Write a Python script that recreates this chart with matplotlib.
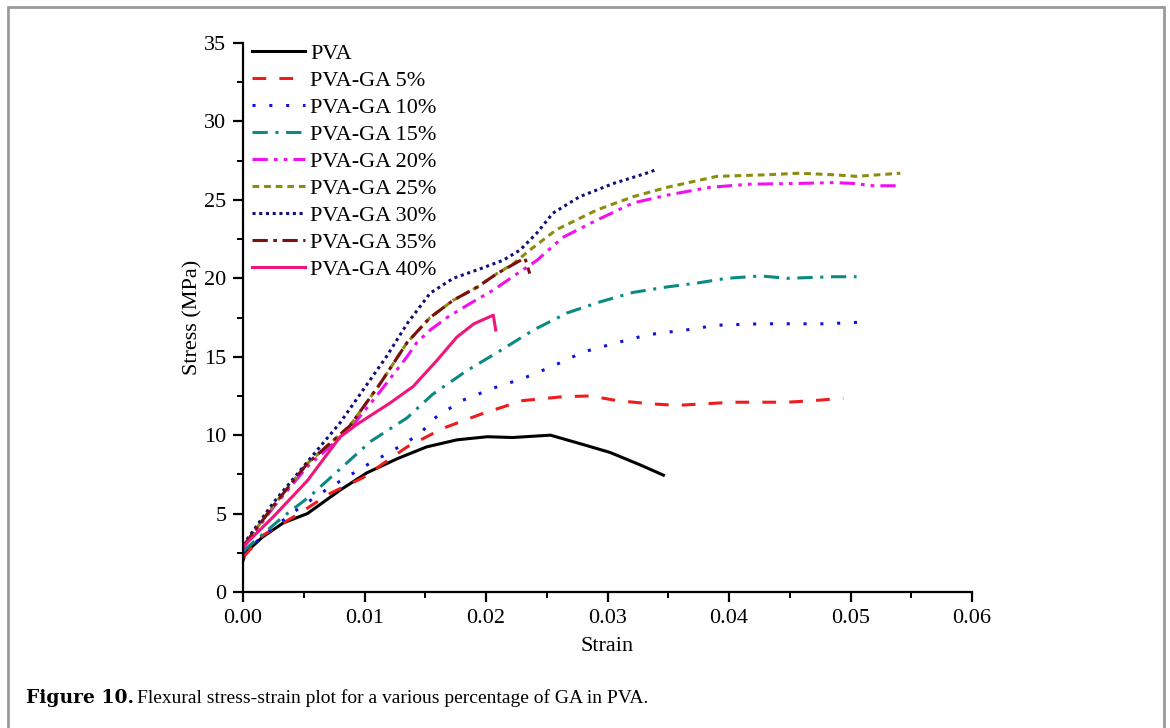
import matplotlib.pyplot as plt
from matplotlib.patches import Rectangle
from matplotlib.ticker import MultipleLocator, FormatStrFormatter

plt.rcParams['font.family'] = ['Liberation Serif', 'DejaVu Serif']

# strain / stress readings for each sample
pva_x = [0.0, 0.0002, 0.0016, 0.0033, 0.0053, 0.008, 0.0102, 0.0127, 0.0151, 0.0176,
         0.0201, 0.0222, 0.0253, 0.028, 0.0302, 0.0327, 0.0346]
pva_y = [2.0, 2.5, 3.5, 4.4, 5.0, 6.5, 7.6, 8.5, 9.25, 9.7, 9.9, 9.85, 10.0, 9.4, 8.9, 8.1, 7.45]

ga5_x = [0.0, 0.0016, 0.0044, 0.0072, 0.0099, 0.0135, 0.0165, 0.0198, 0.023, 0.0263,
         0.0286, 0.0308, 0.0335, 0.0357, 0.0403, 0.0448, 0.0469, 0.0494]
ga5_y = [2.2, 3.6, 4.9, 6.3, 7.3, 9.25, 10.45, 11.4, 12.2, 12.45, 12.5, 12.2, 12.0, 11.9,
         12.1, 12.1, 12.2, 12.35]

ga10_x = [0.0, 0.0025, 0.0047, 0.0072, 0.0102, 0.0124, 0.0146, 0.0156, 0.018, 0.0206,
          0.023, 0.0255, 0.028, 0.0308, 0.0333, 0.0374, 0.0387, 0.0426, 0.048, 0.0508]
ga10_y = [2.5, 4.1, 5.4, 6.7, 8.1, 9.05, 10.1, 11.0, 12.2, 13.0, 13.6, 14.4, 15.3, 15.9,
          16.4, 16.8, 17.0, 17.1, 17.1, 17.2]

ga15_x = [0.0, 0.0033, 0.0055, 0.0085, 0.0105, 0.0135, 0.0156, 0.0184, 0.0212, 0.0239,
          0.0267, 0.0294, 0.0321, 0.0349, 0.0374, 0.0398, 0.0426, 0.0448, 0.0486, 0.0505]
ga15_y = [2.6, 4.8, 6.1, 8.2, 9.6, 11.1, 12.6, 14.1, 15.4, 16.7, 17.8, 18.5, 19.1, 19.45,
          19.7, 20.0, 20.15, 20.0, 20.1, 20.1]

ga20_x = [0.0, 0.0025, 0.0053, 0.0088, 0.0113, 0.0135, 0.0143, 0.0154, 0.0168, 0.0187,
          0.0206, 0.0222, 0.0242, 0.0263, 0.0291, 0.0321, 0.0349, 0.0384, 0.0417, 0.0458,
          0.0486, 0.0502, 0.0519, 0.0538]
ga20_y = [2.8, 5.4, 8.0, 10.4, 12.8, 15.0, 15.9, 16.7, 17.5, 18.4, 19.25, 20.1, 21.15, 22.6,
          23.7, 24.8, 25.3, 25.8, 26.0, 26.05, 26.1, 26.05, 25.9, 25.9]

ga25_x = [0.0, 0.0025, 0.0053, 0.0088, 0.0113, 0.0135, 0.0154, 0.0173, 0.0193, 0.0209,
          0.0222, 0.0236, 0.0258, 0.0291, 0.0321, 0.0349, 0.039, 0.0431, 0.0458, 0.0486,
          0.0505, 0.0541]
ga25_y = [2.9, 5.5, 8.2, 10.6, 13.3, 15.9, 17.5, 18.6, 19.45, 20.3, 20.9, 21.8, 23.1, 24.35,
          25.2, 25.8, 26.5, 26.6, 26.7, 26.6, 26.5, 26.7]

ga30_x = [0.0, 0.0025, 0.0053, 0.008, 0.0099, 0.0118, 0.0135, 0.0154, 0.0173, 0.0195,
          0.0214, 0.0228, 0.0242, 0.0255, 0.0277, 0.0305, 0.0332, 0.0341]
ga30_y = [3.0, 5.7, 8.3, 10.8, 12.9, 15.0, 17.1, 19.05, 20.0, 20.6, 21.15, 21.8, 22.9, 24.15,
          25.2, 26.05, 26.7, 26.95]

ga35_x = [0.0, 0.0025, 0.0053, 0.0088, 0.0113, 0.0135, 0.0154, 0.0173, 0.0193, 0.0209,
          0.0232, 0.0236]
ga35_y = [2.9, 5.5, 8.2, 10.6, 13.3, 15.9, 17.5, 18.6, 19.45, 20.3, 21.3, 20.3]

ga40_x = [0.0, 0.0025, 0.0053, 0.008, 0.0094, 0.0121, 0.014, 0.016, 0.0176, 0.019,
          0.0206, 0.0208]
ga40_y = [2.9, 4.8, 7.1, 9.9, 10.7, 12.05, 13.1, 14.8, 16.25, 17.1, 17.65, 16.7]

labels = ['PVA', 'PVA-GA 5%', 'PVA-GA 10%', 'PVA-GA 15%', 'PVA-GA 20%',
          'PVA-GA 25%', 'PVA-GA 30%', 'PVA-GA 35%', 'PVA-GA 40%']
xs = [pva_x, ga5_x, ga10_x, ga15_x, ga20_x, ga25_x, ga30_x, ga35_x, ga40_x]
ys = [pva_y, ga5_y, ga10_y, ga15_y, ga20_y, ga25_y, ga30_y, ga35_y, ga40_y]
colors = ['black', '#ee1c1c', '#1010dd', '#0b8a84', '#f010f0',
          '#8c8c10', '#10107a', '#7a1010', '#f0157a']
styles = ['-', (0, (4.5, 4.3)), (0, (1, 4.5)), (0, (5, 2.5, 1, 2.5)),
          (0, (5, 2, 1.2, 2, 1.2, 2)), (0, (2.2, 1.6)), (0, (1, 1.2)),
          (0, (5, 1.8, 1.2, 1.8)), '-']

fig = plt.figure(figsize=(11.7, 7.28), dpi=100)
ax = fig.add_axes([0.2077, 0.1868, 0.6231, 0.7541])

for x, y, lab, c, ls in zip(xs, ys, labels, colors, styles):
    ax.plot(x, y, color=c, linestyle=ls, lw=2.2, label=lab,
            solid_joinstyle='round', dash_joinstyle='round')

ax.set_xlim(0, 0.06)
ax.set_ylim(0, 35)
ax.xaxis.set_major_locator(MultipleLocator(0.01))
ax.xaxis.set_minor_locator(MultipleLocator(0.005))
ax.yaxis.set_major_locator(MultipleLocator(5))
ax.yaxis.set_minor_locator(MultipleLocator(2.5))
ax.xaxis.set_major_formatter(FormatStrFormatter('%.2f'))
for s in ['top', 'right']:
    ax.spines[s].set_visible(False)
for s in ['left', 'bottom']:
    ax.spines[s].set_linewidth(1.6)
ax.tick_params(which='major', direction='out', length=7, width=1.6, labelsize=16, pad=5)
ax.tick_params(which='minor', direction='out', length=4, width=1.4)
ax.set_xlabel('Strain', fontsize=16, labelpad=7)
ax.set_ylabel('Stress (MPa)', fontsize=16, labelpad=1)

ax.legend(loc='upper left', bbox_to_anchor=(0.012, 0.999), frameon=False, fontsize=16,
          handlelength=2.4, handletextpad=0.22, labelspacing=0.29,
          borderaxespad=0, borderpad=0)

# page frame and caption
fig.patches.append(Rectangle((8 / 1170, -0.05), 1156 / 1170, 1 - 7 / 728 + 0.05,
                             transform=fig.transFigure, fill=False, edgecolor='#9a9a9a', lw=2))
t1 = fig.text(26 / 1170, 1 - 698 / 728, 'Figure 10.', fontsize=13.5, fontweight='bold',
              family='DejaVu Serif', va='center', ha='left')
fig.canvas.draw()
bb = t1.get_window_extent()
fig.text((bb.x1 + 3) / 1170, 1 - 698 / 728,
         'Flexural stress-strain plot for a various percentage of GA in PVA.',
         fontsize=14, va='center', ha='left')

fig.savefig('out.png', dpi=100)
